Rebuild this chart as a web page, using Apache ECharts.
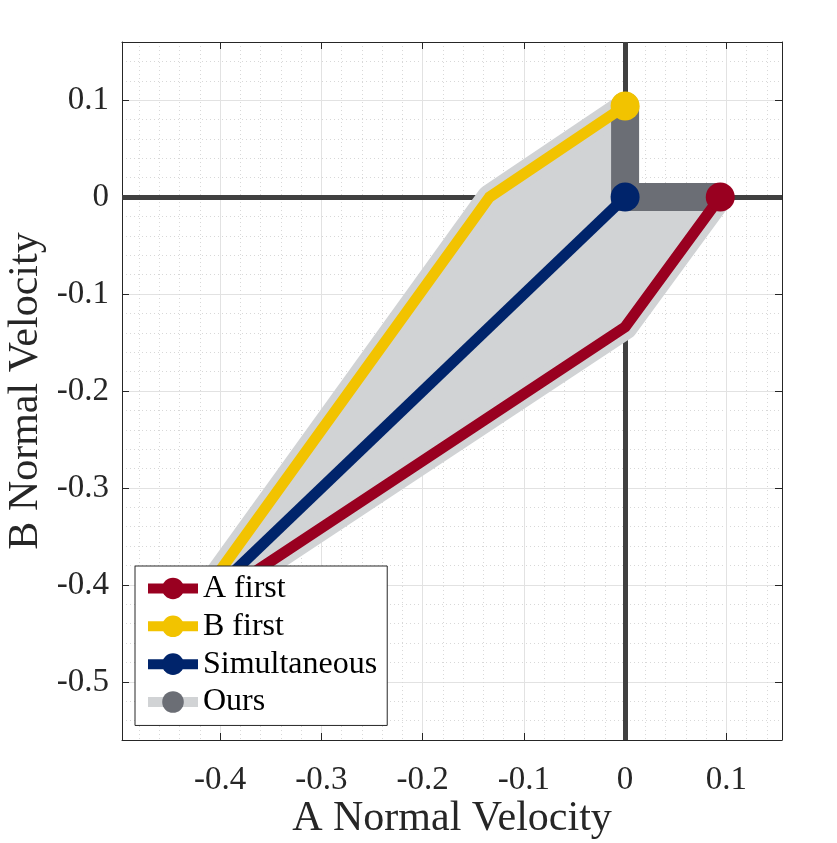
<!doctype html>
<html>
<head>
    <title>Normal Velocity</title>
    <script src="https://cdn.jsdelivr.net/npm/echarts@6/dist/echarts.min.js"></script>
</head>
<style>
    html, body, #chart {
        margin: 0;
        height: 100%;
        width: 100%;
        background: #fff;
    }
</style>
<body>
<div id="chart"></div>
<script>
  // data
  var aFirstX = [0.094, 0, -0.42];
  var aFirstY = [0, -0.134, -0.424];
  var bFirstX = [0, -0.134, -0.424];
  var bFirstY = [0.094, 0, -0.42];
  var simulX = [0, -0.42];
  var simulY = [0, -0.42];
  // "Ours": the L between the two orderings, and the region it sweeps
  var oursX = [0, 0, 0.094];
  var oursY = [0.094, 0, 0];
  var regionX = [0, -0.134, -0.424, -0.42, 0, 0.094, 0];
  var regionY = [0.094, 0, -0.42, -0.424, -0.134, 0, 0];

  var xRange = [-0.497, 0.155];
  var yRange = [-0.56, 0.16];

  var FONT = 'Liberation Serif';
  var INK = '#262626';
  var RED = '#990020', YELLOW = '#f2c300', NAVY = '#00246b';
  var DARK = '#6b6e75', LIGHT = '#d1d3d5';

  function pairs(xs, ys) {
    return xs.map(function (x, i) {
      var item = { value: [x, ys[i]] };
      if (i > 0) item.symbol = 'none';
      return item;
    });
  }

  function label(v) {
    var r = Math.round(v * 10) / 10;
    if (Math.abs(r - v) > 1e-6) return '';
    return r === 0 ? '0' : String(r);
  }

  var chart = echarts.init(document.getElementById('chart'));

  var mainAxis = function (pos, range, name, nameGap, margin) {
    return {
      type: 'value',
      position: pos,
      min: range[0],
      max: range[1],
      splitNumber: 6,
      name: name,
      nameLocation: 'middle',
      nameGap: nameGap,
      nameMoveOverlap: false,
      nameTextStyle: { fontFamily: FONT, fontSize: 42, color: INK },
      axisLine: { show: true, onZero: false, lineStyle: { color: INK, width: 1 } },
      axisTick: { show: true, inside: true, length: 7, lineStyle: { color: INK } },
      axisLabel: {
        fontFamily: FONT, fontSize: 33, color: INK, margin: margin,
        showMinLabel: false, showMaxLabel: false,
        formatter: label
      },
      splitLine: { show: true, lineStyle: { color: '#e2e2e2', width: 1 } },
      minorTick: { show: false, splitNumber: 5 },
      minorSplitLine: { show: true, lineStyle: { color: '#d8d8d8', width: 1, type: [1, 3] } }
    };
  };

  var boxAxis = function (pos, range) {
    return {
      type: 'value',
      position: pos,
      min: range[0],
      max: range[1],
      splitNumber: 6,
      axisLine: { show: true, onZero: false, lineStyle: { color: INK, width: 1 } },
      axisTick: { show: true, inside: true, length: 7, lineStyle: { color: INK } },
      axisLabel: { show: false },
      splitLine: { show: false }
    };
  };

  var option = {
    animation: false,
    backgroundColor: '#fff',
    grid: {
      left: 122, right: 55, top: 42, bottom: 103,
      containLabel: false, outerBoundsMode: 'none'
    },
    xAxis: [
      mainAxis('bottom', xRange, 'A Normal Velocity', 47, 15),
      boxAxis('top', xRange)
    ],
    yAxis: [
      mainAxis('left', yRange, 'B Normal Velocity', 64, 13),
      boxAxis('right', yRange)
    ],
    legend: {
      orient: 'vertical',
      left: 135,
      top: 566,
      z: 10,
      selectedMode: false,
      itemWidth: 50,
      itemHeight: 27,
      itemGap: -11,
      padding: [-2, 10, -1, 8],
      backgroundColor: '#fff',
      borderColor: INK,
      borderWidth: 1,
      borderRadius: 0,
      textStyle: { fontFamily: FONT, fontSize: 32, lineHeight: 27, color: '#000' },
      data: [
        { name: 'A first', lineStyle: { color: RED, width: 10 }, itemStyle: { color: RED } },
        { name: 'B first', lineStyle: { color: YELLOW, width: 10 }, itemStyle: { color: YELLOW } },
        { name: 'Simultaneous', lineStyle: { color: NAVY, width: 10 }, itemStyle: { color: NAVY } },
        { name: 'Ours', lineStyle: { color: LIGHT, width: 10 }, itemStyle: { color: DARK } }
      ]
    },
    series: [
      {
        // thick zero lines
        type: 'line',
        name: 'axes',
        z: 1,
        data: [],
        silent: true,
        markLine: {
          z: 1,
          silent: true,
          symbol: 'none',
          label: { show: false },
          lineStyle: { color: '#404040', width: 5, type: 'solid' },
          data: [{ xAxis: 0 }, { yAxis: 0 }]
        }
      },
      {
        type: 'custom',
        name: 'region',
        z: 2,
        silent: true,
        data: [[0, 0]],
        renderItem: function (params, api) {
          var pts = regionX.map(function (x, i) { return api.coord([x, regionY[i]]); });
          return {
            type: 'polygon',
            shape: { points: pts },
            style: { fill: LIGHT, stroke: LIGHT, lineWidth: 25, lineJoin: 'round' }
          };
        }
      },
      {
        type: 'line',
        name: 'Ours',
        z: 3,
        symbol: 'circle',
        symbolSize: 28,
        itemStyle: { color: DARK },
        lineStyle: { color: DARK, width: 28, join: 'miter', cap: 'butt' },
        data: pairs(oursX, oursY)
      },
      {
        type: 'line',
        name: 'A first',
        z: 4,
        symbol: 'circle',
        symbolSize: 29,
        itemStyle: { color: RED },
        lineStyle: { color: RED, width: 11, join: 'round' },
        data: pairs(aFirstX, aFirstY)
      },
      {
        type: 'line',
        name: 'B first',
        z: 4,
        symbol: 'circle',
        symbolSize: 29,
        itemStyle: { color: YELLOW },
        lineStyle: { color: YELLOW, width: 11, join: 'round' },
        data: pairs(bFirstX, bFirstY)
      },
      {
        type: 'line',
        name: 'Simultaneous',
        z: 5,
        symbol: 'circle',
        symbolSize: 29,
        itemStyle: { color: NAVY },
        lineStyle: { color: NAVY, width: 11, join: 'round' },
        data: pairs(simulX, simulY)
      }
    ]
  };

  chart.setOption(option);
</script>
</body>
</html>
